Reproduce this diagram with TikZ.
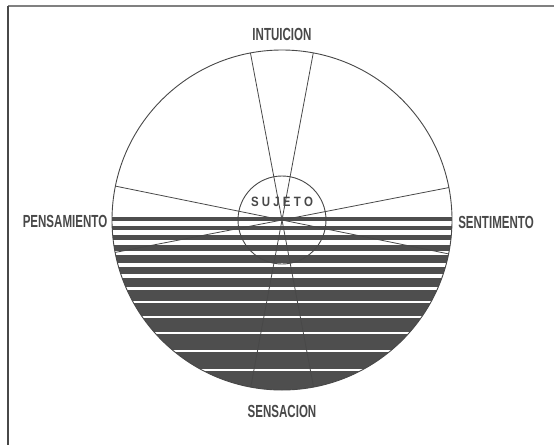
\documentclass[tikz,border=0pt]{standalone}
\usepackage{fontspec}
\usetikzlibrary{positioning}
\newfontfamily\labelfont[FakeStretch=0.66]{Liberation Sans Bold}
\newfontfamily\innerfont[FakeStretch=0.85]{Liberation Sans Bold}
\definecolor{inkgray}{RGB}{72,72,72}
\definecolor{bandgray}{RGB}{78,78,78}
\newcommand{\lspc}{\kern3.2pt}

\begin{document}
\begin{tikzpicture}[
        x=1pt, y=-1pt,
        rim/.style={draw=inkgray, line width=0.9pt},
        ray/.style={draw=inkgray, line width=0.8pt},
        lbl/.style={font=\labelfont\fontsize{17.5}{17.5}\selectfont, text=inkgray, inner sep=0pt},
    ]
        \useasboundingbox (0,0) rectangle (554,445);

        % frame
        \draw[line width=2.5pt, gray] (8,6) -- (554,6);
        \draw[line width=1.2pt, inkgray] (8,6) -- (8,445);

        \coordinate (c) at (282,220);

        % striped lower half
        \begin{scope}
            \clip (c) circle (170);
            \fill[bandgray] (100,217) rectangle (470,400);
            \foreach \y/\w in {223/5, 232/5, 242/5, 253/4.5, 265/4, 276/3.5, 288/3, 302/2.6, 317/2.5, 333/2.5, 351/2.5, 370/2.5}
                \fill[white] (100,\y-\w/2) rectangle (470,\y+\w/2);
        \end{scope}

        % circles
        \draw[rim] (c) circle (170);
        \draw[rim] (c) circle (44);

        % rays through the centre
        \path (c) ++(-100.7:170) coordinate (i1);
        \path (c) ++(-79.4:170) coordinate (i2);
        \path (c) ++(79.3:170) coordinate (s1);
        \path (c) ++(100.6:170) coordinate (s2);
        \path (c) ++(-168.5:170) coordinate (p1);
        \path (c) ++(11.5:170) coordinate (p2);
        \path (c) ++(-11:170) coordinate (e1);
        \path (c) ++(169:170) coordinate (e2);

        \draw[ray] (i1) -- (s1);
        \draw[ray] (i2) -- (s2);
        \draw[ray] (p1) -- (p2);
        \draw[ray] (e1) -- (e2);

        % labels
        \node[lbl] (intu) at (282,34) {INTUICION};
        \node[lbl] (pens) at (65,221) {PENSAMIENTO};
        \node[lbl] (sent) at (496,222) {SENTIMENTO};
        \node[lbl] (sens) at (282,411) {SENSACION};
        \node[lbl, font=\innerfont\fontsize{13.5}{13.5}\selectfont] (suj) at (282,202) {S\lspc U\lspc J\lspc E\lspc T\lspc O};
    \end{tikzpicture}
\end{document}
